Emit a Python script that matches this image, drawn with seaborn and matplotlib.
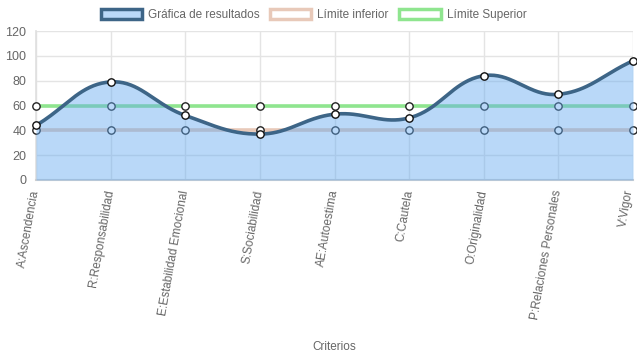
import numpy as np
import pandas as pd
import matplotlib
matplotlib.use("Agg")
import matplotlib.pyplot as plt
import matplotlib.transforms as mtransforms
import seaborn as sns
from matplotlib.patches import Patch

categories = ["A:Ascendencia", "R:Responsabilidad", "E:Estabilidad Emocional",
              "S:Sociabilidad", "AE:Autoestima", "C:Cautela", "O:Originalidad",
              "P:Relaciones Personales", "V:Vigor"]
resultados = [44, 79, 52, 37, 53, 50, 84, 69, 96]
limite_inferior = [40, 40, 40, 40, 40, 40, 40, 40, 40]
limite_superior = [60, 60, 60, 60, 60, 60, 60, 60, 60]
y_ticks = [0, 20, 40, 60, 80, 100, 120]

sns.set_theme(style="white")
plt.rcParams['font.family'] = ['Liberation Sans', 'DejaVu Sans']

W, H = 637, 359
fig = plt.figure(figsize=(W / 100, H / 100), dpi=100)
L, R, T, B = 36, 633, 31, 180
ax = fig.add_axes([L / W, 1 - B / H, (R - L) / W, (B - T) / H])

n = len(categories)
x = np.arange(n)
df = pd.DataFrame({"x": x, "cat": categories, "res": resultados,
                   "inf": limite_inferior, "sup": limite_superior})

# Chart.js style spline (tension 0.4) in pixel-like space
sx = (R - L) / (n - 1)
sy = (B - T) / 120.0

def spline(xs, ys, t=0.4):
    px = np.array(xs, float) * sx
    py = np.array(ys, float) * sy
    m = len(px)
    cps = []
    for i in range(m):
        p = np.array([px[i], py[i]])
        prev = np.array([px[max(i - 1, 0)], py[max(i - 1, 0)]])
        nxt = np.array([px[min(i + 1, m - 1)], py[min(i + 1, m - 1)]])
        d01 = np.hypot(*(p - prev))
        d12 = np.hypot(*(nxt - p))
        tot = d01 + d12
        s01 = d01 / tot if tot else 0
        s12 = d12 / tot if tot else 0
        fa, fb = t * s01, t * s12
        c1 = p - fa * (nxt - prev)
        c2 = p + fb * (nxt - prev)
        cps.append((c1, c2))
    outx, outy = [], []
    u = np.linspace(0, 1, 40)
    for i in range(m - 1):
        p0 = np.array([px[i], py[i]])
        p3 = np.array([px[i + 1], py[i + 1]])
        p1 = cps[i][1]
        p2 = cps[i + 1][0]
        bx = ((1 - u) ** 3) * p0[0] + 3 * ((1 - u) ** 2) * u * p1[0] + 3 * (1 - u) * u ** 2 * p2[0] + u ** 3 * p3[0]
        by = ((1 - u) ** 3) * p0[1] + 3 * ((1 - u) ** 2) * u * p1[1] + 3 * (1 - u) * u ** 2 * p2[1] + u ** 3 * p3[1]
        outx.extend(bx)
        outy.extend(by)
    return np.array(outx) / sx, np.array(outy) / sy

green = "#8fe58f"
pink = "#e8c9b9"
blue_fill = (100 / 255, 170 / 255, 240 / 255, 0.45)
dark = "#3d6587"

cx, cy = spline(df["x"], df["res"])
inf_interp = np.interp(cx, df["x"], df["inf"])

# Upper limit
sns.lineplot(data=df, x="x", y="sup", ax=ax, color=green, lw=2.6, zorder=2)
sns.scatterplot(data=df, x="x", y="sup", ax=ax, s=28, color="white",
                edgecolor="#222222", linewidth=1.0, zorder=3, clip_on=False)
# Lower limit (its fill is only visible where the results dip below it)
ax.fill_between(cx, cy, inf_interp, where=cy < inf_interp, color=pink,
                alpha=0.45, lw=0, zorder=1, interpolate=True)
sns.lineplot(data=df, x="x", y="inf", ax=ax, color=pink, lw=2.6, zorder=2)
sns.scatterplot(data=df, x="x", y="inf", ax=ax, s=28, color="white",
                edgecolor="#222222", linewidth=1.0, zorder=3, clip_on=False)

# Results
ax.fill_between(cx, 0, cy, color=blue_fill, lw=0, zorder=4)
ax.plot(cx, cy, color=dark, lw=2.6, zorder=5, solid_capstyle="round")
sns.scatterplot(data=df, x="x", y="res", ax=ax, s=28, color="white",
                edgecolor="#111111", linewidth=1.0, zorder=6, clip_on=False)

ax.set_xlim(0, n - 1)
ax.set_ylim(0, 120)
ax.set_yticks(y_ticks)
ax.set_yticklabels([str(v) for v in y_ticks], fontsize=9, color="#666666")
ax.set_xticks(x)
ax.set_xticklabels([])
base = ax.get_xaxis_transform()
for i, lab in enumerate(categories):
    dx = -3 / 100 if i == n - 1 else 0
    tr = base + mtransforms.ScaledTranslation(dx, -10 / 100, fig.dpi_scale_trans)
    ax.text(i, 0, lab, transform=tr, rotation=80, ha="right", va="center",
            rotation_mode="anchor", fontsize=8.5, color="#666666")
ax.tick_params(axis="x", length=6, color="#e0e0e0", pad=2)
ax.tick_params(axis="y", length=5, color="#e0e0e0", pad=2)
ax.grid(True, color="#e4e4e4", lw=1)
for s in ["top", "right"]:
    ax.spines[s].set_visible(False)
ax.spines["left"].set_color("#e0e0e0")
ax.spines["bottom"].set_color("#d0d0d0")
ax.spines["bottom"].set_linewidth(1.5)
ax.set_xlabel("")
ax.set_ylabel("")
ax.set_axisbelow(True)

fig.text((L + R) / 2 / W, 1 - 347 / H, "Criterios", ha="center", va="center",
         fontsize=8.5, color="#666666")

handles = [
    Patch(facecolor=(100 / 255, 170 / 255, 240 / 255, 0.45), edgecolor=dark, lw=2.5),
    Patch(facecolor="white", edgecolor=pink, lw=2.5),
    Patch(facecolor="white", edgecolor=green, lw=2.5),
]
labels = ["Gráfica de resultados", "Límite inferior", "Límite Superior"]
fig.legend(handles, labels, loc="center", bbox_to_anchor=(0.5 - 5 / W, 1 - 15 / H),
           ncol=3, frameon=False, fontsize=8.5, handlelength=3.5, handleheight=0.9,
           columnspacing=0.9, handletextpad=0.5, labelcolor="#666666")

fig.savefig("out.png", dpi=100)
